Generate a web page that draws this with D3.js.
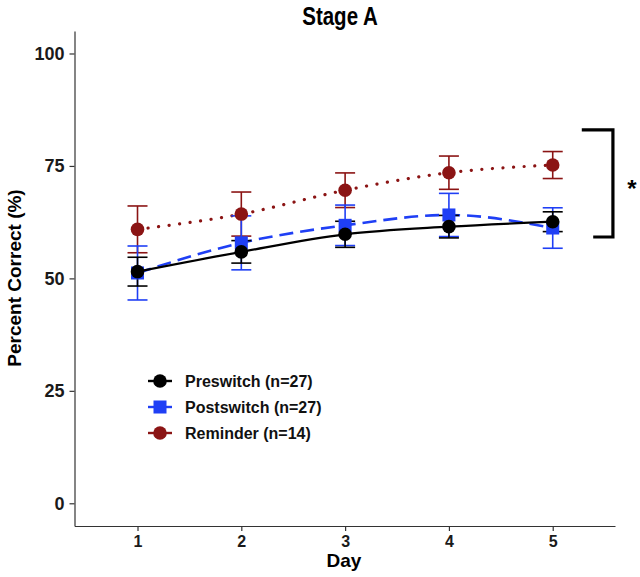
<!DOCTYPE html>
<html>
<head>
<meta charset="utf-8">
<script src="https://cdn.jsdelivr.net/npm/d3@7"></script>
<style>
  html, body { margin: 0; padding: 0; background: #fff; }
  svg { display: block; }
  text { font-family: "Liberation Sans", Arial, sans-serif; font-weight: bold; }
</style>
</head>
<body>
<svg id="chart" width="640" height="577"></svg>
<script>
// ---- data ----
const days = [1, 2, 3, 4, 5];
const preswitchMean = [51.5, 55.9, 59.8, 61.5, 62.6];
const preswitchSE   = [3.2, 2.5, 2.9, 2.5, 2.2];
const postswitchMean = [51.2, 57.9, 61.8, 64.1, 61.2];
const postswitchSE   = [6.0, 6.0, 4.5, 4.8, 4.5];
const reminderMean = [60.9, 64.3, 69.6, 73.5, 75.2];
const reminderSE   = [5.2, 4.9, 3.85, 3.7, 3.0];
const yTicks = [0, 25, 50, 75, 100];
const legendLabels = ["Preswitch (n=27)", "Postswitch (n=27)", "Reminder (n=14)"];
const titleText = "Stage A";
const xTitle = "Day";
const yTitle = "Percent Correct (%)";
// significance bracket (data units)
const bracketX = [5.28, 5.58, 5.58, 5.39];
const bracketY = [83.0, 83.0, 59.2, 59.2];
const bracketLabel = "*";

// ---- layout ----
const svg = d3.select("#chart");
svg.append("rect").attr("width", 640).attr("height", 577).attr("fill", "#fff");

const x = d3.scaleLinear().domain([0.393, 5.6]).range([74.5, 615]);
const y = d3.scaleLinear().domain([-5.05, 105]).range([526, 31]);

const series = [
  { name: legendLabels[1], mean: postswitchMean, se: postswitchSE, color: "#1f3ff5", shape: "square", dash: "14,7", width: 2.6, cap: "butt" },
  { name: legendLabels[0], mean: preswitchMean, se: preswitchSE, color: "#000000", shape: "circle", dash: null, width: 2.2, cap: "butt" },
  { name: legendLabels[2], mean: reminderMean, se: reminderSE, color: "#8b1414", shape: "circle", dash: "0.1,10.5", width: 3.2, cap: "round" }
];

// axes
const yAxis = d3.axisLeft(y).tickValues(yTicks).tickSize(5).tickSizeOuter(0).tickPadding(5);
const gy = svg.append("g").attr("transform", "translate(74.5,0)").call(yAxis);
gy.select(".domain").attr("stroke", "#333").attr("stroke-width", 1.2);
gy.selectAll(".tick line").attr("stroke", "#333").attr("stroke-width", 1.2);
gy.selectAll(".tick text").attr("font-size", 18).attr("fill", "#1a1a1a")
  .style("font-family", "'Liberation Sans', Arial, sans-serif").style("font-weight", "bold");

const xAxis = d3.axisBottom(x).tickValues(days).tickFormat(d3.format("d")).tickSize(5).tickSizeOuter(0).tickPadding(5);
const gx = svg.append("g").attr("transform", "translate(0,526)").call(xAxis);
gx.select(".domain").attr("stroke", "#333").attr("stroke-width", 1.2);
gx.selectAll(".tick line").attr("stroke", "#333").attr("stroke-width", 1.2);
gx.selectAll(".tick text").attr("font-size", 16).attr("fill", "#1a1a1a")
  .style("font-family", "'Liberation Sans', Arial, sans-serif").style("font-weight", "bold");

// titles
svg.append("text").attr("transform", "translate(340,25) scale(0.82,1)").attr("text-anchor", "middle")
  .attr("font-size", 25)
  .text(titleText);
svg.append("text").attr("x", 344).attr("y", 567).attr("text-anchor", "middle")
  .attr("font-size", 19).text(xTitle);
svg.append("text").attr("transform", "translate(21,278) rotate(-90)").attr("text-anchor", "middle")
  .attr("font-size", 19).text(yTitle);

// lines
const line = d3.line().x((d, i) => x(days[i])).y(d => y(d)).curve(d3.curveMonotoneX);
const drawOrder = [series[2], series[0], series[1]];
drawOrder.forEach(s => {
  svg.append("path").datum(s.mean).attr("d", line)
    .attr("fill", "none").attr("stroke", s.color).attr("stroke-width", s.width)
    .attr("stroke-dasharray", s.dash).attr("stroke-linecap", s.cap);
});

// error bars + points
const capHalf = 10;
drawOrder.forEach(s => {
  const g = svg.append("g").attr("stroke", s.color).attr("stroke-width", 1.6).attr("fill", "none");
  days.forEach((d, i) => {
    const cx = x(d), lo = y(s.mean[i] - s.se[i]), hi = y(s.mean[i] + s.se[i]);
    g.append("line").attr("x1", cx).attr("x2", cx).attr("y1", lo).attr("y2", hi);
    g.append("line").attr("x1", cx - capHalf).attr("x2", cx + capHalf).attr("y1", lo).attr("y2", lo);
    g.append("line").attr("x1", cx - capHalf).attr("x2", cx + capHalf).attr("y1", hi).attr("y2", hi);
  });
});
drawOrder.forEach(s => {
  days.forEach((d, i) => {
    if (s.shape === "square") {
      svg.append("rect").attr("x", x(d) - 6.5).attr("y", y(s.mean[i]) - 6.5)
        .attr("width", 13).attr("height", 13).attr("fill", s.color);
    } else {
      svg.append("circle").attr("cx", x(d)).attr("cy", y(s.mean[i])).attr("r", 6.8).attr("fill", s.color);
    }
  });
});

// significance bracket
const bracketLine = d3.line().x((d, i) => x(bracketX[i])).y(d => y(d));
svg.append("path").datum(bracketY).attr("d", bracketLine)
  .attr("fill", "none").attr("stroke", "#000").attr("stroke-width", 3.2);
svg.append("text").attr("x", 632).attr("y", 197).attr("text-anchor", "middle")
  .attr("font-size", 24).text(bracketLabel);

// legend
const legendOrder = [series[1], series[0], series[2]];
legendOrder.forEach((s, i) => {
  const ly = 381 + i * 26;
  const g = svg.append("g");
  g.append("line").attr("x1", 148).attr("x2", 172).attr("y1", ly).attr("y2", ly)
    .attr("stroke", s.color).attr("stroke-width", 2.4);
  if (s.shape === "square") {
    g.append("rect").attr("x", 160 - 6.5).attr("y", ly - 6.5).attr("width", 13).attr("height", 13).attr("fill", s.color);
  } else {
    g.append("circle").attr("cx", 160).attr("cy", ly).attr("r", 6.8).attr("fill", s.color);
  }
  g.append("text").attr("x", 185).attr("y", ly).attr("dy", "0.36em")
    .attr("font-size", 16).attr("fill", "#111").text(s.name);
});
</script>
</body>
</html>
